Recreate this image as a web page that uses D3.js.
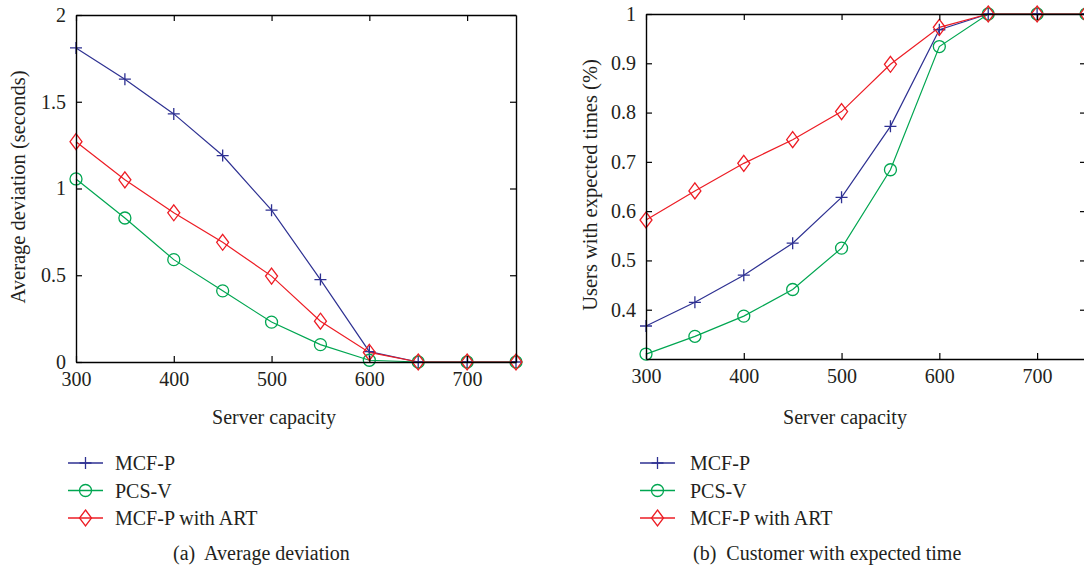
<!DOCTYPE html>
<html>
<head>
<meta charset="utf-8">
<script src="https://cdn.jsdelivr.net/npm/d3@7"></script>
<style>
  body { margin: 0; background: #fff; }
  svg text { font-family: "Liberation Serif", "Times New Roman", "DejaVu Serif", serif !important; fill: #231f20; white-space: pre; }
</style>
</head>
<body>
<div id="chart"></div>
<script>
// data
var capacity = [300, 350, 400, 450, 500, 550, 600, 650, 700, 750];
var seriesNames = ["MCF-P", "PCS-V", "MCF-P with ART"];

// (a) average deviation (seconds)
var devMCFP = [1.81, 1.63, 1.43, 1.19, 0.875, 0.475, 0.06, 0, 0, 0];
var devPCSV = [1.055, 0.83, 0.59, 0.41, 0.23, 0.10, 0.01, 0, 0, 0];
var devART  = [1.27, 1.05, 0.86, 0.69, 0.495, 0.235, 0.055, 0, 0, 0];

// (b) users with expected times
var expMCFP = [0.367, 0.415, 0.47, 0.535, 0.628, 0.772, 0.968, 1, 1, 1];
var expPCSV = [0.31, 0.346, 0.387, 0.441, 0.525, 0.684, 0.934, 1, 1, 1];
var expART  = [0.582, 0.641, 0.697, 0.745, 0.802, 0.898, 0.973, 1, 1, 1];

var xTicks = [300, 400, 500, 600, 700];
var devTicks = [0, 0.5, 1, 1.5, 2];
var expTicks = [0.4, 0.5, 0.6, 0.7, 0.8, 0.9, 1];

var colours = ["#2e3192", "#00a651", "#ed1c24"];
var markers = ["plus", "circle", "diamond"];

var w = 1084, h = 571;
var svg = d3.select("#chart").append("svg")
    .attr("width", w).attr("height", h)
    .attr("font-family", "Liberation Serif");
svg.append("rect").attr("width", w).attr("height", h).attr("fill", "#fff");

function drawMarker(g, type, x, y, col) {
    if (type == "plus") {
        g.append("path")
            .attr("d", "M" + (x - 6) + "," + y + "H" + (x + 6) + "M" + x + "," + (y - 6) + "V" + (y + 6))
            .attr("stroke", col).attr("stroke-width", 1.3).attr("fill", "none");
    } else if (type == "circle") {
        g.append("circle").attr("cx", x).attr("cy", y).attr("r", 6)
            .attr("stroke", col).attr("stroke-width", 1.3).attr("fill", "none");
    } else {
        g.append("path")
            .attr("d", "M" + x + "," + (y - 8) + "L" + (x + 6) + "," + y + "L" + x + "," + (y + 8) + "L" + (x - 6) + "," + y + "Z")
            .attr("stroke", col).attr("stroke-width", 1.3).attr("fill", "none");
    }
}

function panel(opt) {
    var x = d3.scaleLinear().domain([300, 750]).range([opt.left, opt.right]);
    var y = d3.scaleLinear().domain(opt.yDomain).range([opt.bottom, opt.top]);
    var g = svg.append("g");

    // series lines and markers
    opt.series.forEach(function (vals, i) {
        var line = d3.line()
            .x(function (d, j) { return x(capacity[j]); })
            .y(function (d) { return y(d); });
        g.append("path").datum(vals)
            .attr("d", line)
            .attr("fill", "none")
            .attr("stroke", colours[i])
            .attr("stroke-width", 1.2);
    });
    opt.series.forEach(function (vals, i) {
        vals.forEach(function (v, j) {
            drawMarker(g, markers[i], x(capacity[j]), y(v), colours[i]);
        });
    });

    // axes with inward ticks, box all round
    var ax = svg.append("g").attr("class", "axes");
    ax.append("g").attr("transform", "translate(0," + opt.bottom + ")")
        .call(d3.axisBottom(x).tickValues(xTicks).tickSizeInner(-6).tickSizeOuter(0).tickPadding(10).tickFormat(d3.format("d")));
    ax.append("g").attr("transform", "translate(0," + opt.top + ")")
        .call(d3.axisTop(x).tickValues(xTicks).tickSizeInner(-6).tickSizeOuter(0).tickFormat(""));
    ax.append("g").attr("transform", "translate(" + opt.left + ",0)")
        .call(d3.axisLeft(y).tickValues(opt.yTicks).tickSizeInner(-6).tickSizeOuter(0).tickPadding(10).tickFormat(function (d) { return String(+d.toFixed(2)); }));
    ax.append("g").attr("transform", "translate(" + opt.right + ",0)")
        .call(d3.axisRight(y).tickValues(opt.yTicks).tickSizeInner(-6).tickSizeOuter(0).tickFormat(""));
    ax.selectAll("g").attr("font-family", null);
    ax.selectAll(".domain").attr("stroke", "#000").attr("stroke-width", 1.4);
    ax.selectAll(".tick line").attr("stroke", "#000").attr("stroke-width", 1.2);
    ax.selectAll(".tick text").attr("font-size", 20).attr("fill", "#231f20");

    // axis titles
    svg.append("text")
        .attr("x", opt.xTitleX)
        .attr("y", 424)
        .attr("text-anchor", "middle")
        .attr("font-size", 20)
        .text("Server capacity");
    svg.append("text")
        .attr("transform", "translate(" + opt.yTitleX + "," + opt.yTitleY + ") rotate(-90)")
        .attr("text-anchor", "middle")
        .attr("font-size", 20.5)
        .text(opt.yTitle);

    // legend
    var lg = svg.append("g");
    seriesNames.forEach(function (name, i) {
        var ly = 463 + i * 27.5;
        lg.append("line")
            .attr("x1", opt.legendX).attr("x2", opt.legendX + 35)
            .attr("y1", ly).attr("y2", ly)
            .attr("stroke", colours[i]).attr("stroke-width", 1.3);
        drawMarker(lg, markers[i], opt.legendX + 17.5, ly, colours[i]);
        lg.append("text")
            .attr("x", opt.legendX + opt.legendText).attr("y", ly + 7)
            .attr("font-size", 20)
            .text(name);
    });

    // caption
    svg.append("text")
        .attr("x", opt.captionX).attr("y", 560)
        .attr("font-size", 20)
        .text(opt.caption);
}

panel({
    left: 76, right: 516, top: 15, bottom: 362,
    yDomain: [0, 2], yTicks: devTicks,
    series: [devMCFP, devPCSV, devART],
    yTitle: "Average deviation (seconds)", yTitleX: 25, yTitleY: 187,
    xTitleX: 274,
    legendX: 68, legendText: 47, captionX: 173,
    caption: "(a)  Average deviation"
});

panel({
    left: 646, right: 1086, top: 14, bottom: 359,
    yDomain: [0.3, 1], yTicks: expTicks,
    series: [expMCFP, expPCSV, expART],
    yTitle: "Users with expected times (%)", yTitleX: 597, yTitleY: 185,
    xTitleX: 845,
    legendX: 640, legendText: 50, captionX: 693,
    caption: "(b)  Customer with expected time"
});
</script>
</body>
</html>
